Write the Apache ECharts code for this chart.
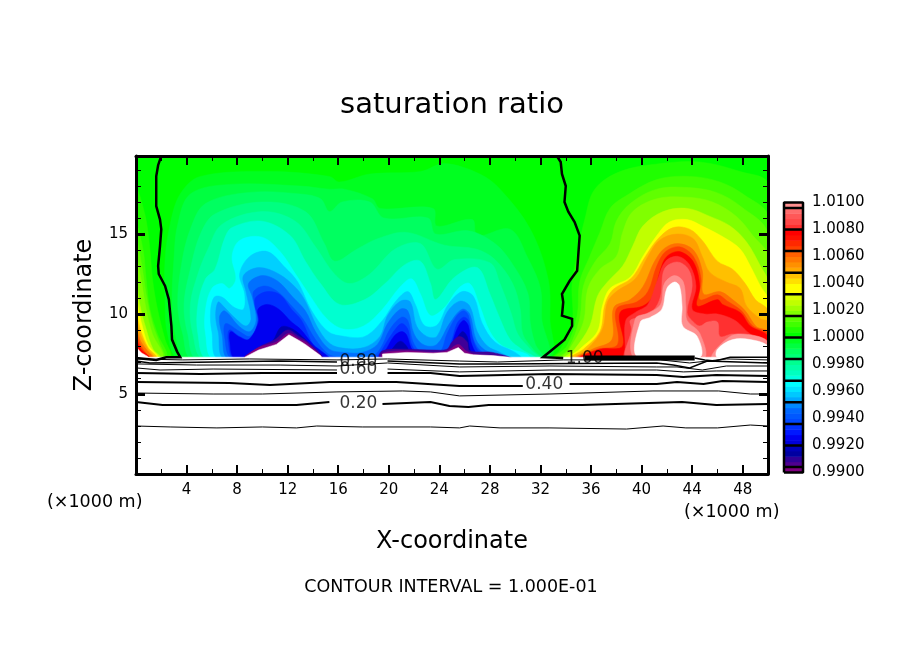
<!doctype html>
<html>
<head>
<meta charset="utf-8">
<title>saturation ratio</title>
<script src="https://cdn.jsdelivr.net/npm/echarts@6/dist/echarts.min.js"></script>
<style>
	html,body{margin:0;background:#fff;}
	#chart{width:904px;height:654px;}
</style>
</head>
<body>
<div id="chart"></div>
<script>
// filled contours: [x (km), z (km)] rings, one list per level
var base = [[[0,7.3],[0,19.875],[50,19.875],[50,7.3]]];
var c9996 = [[[3.5,7.2],[2.5,8.75],[2.3,10.9],[2.3,13.4],[2.7,15.6],[3.5,17.5],[5.1,18.6],[10.6,18.9],[15.3,18.6],[16.1,18.25],[18.5,18.75],[22.5,18.9],[24.4,19.4],[27.2,18.75],[28.8,17.8],[31.2,15.3],[32.6,12.2],[32.75,9.7],[32.6,7.3]]];
var c9992 = [[[4,7.2],[3.1,8.75],[2.85,10.6],[3,13.4],[3.3,15.6],[4.3,17.5],[7.4,18.1],[13,18],[15.3,17.8],[16.5,17.8],[18.7,17.2],[19.3,16.6],[23.5,16.6],[23.8,15.5],[26.6,15.9],[27,14.9],[29.6,15.3],[31,13.5],[32,11.6],[32.1,9.7],[32.4,7.2]]];
var c9988 = [[[4.5,7.2],[3.7,8.75],[3.3,10.6],[3.6,13.1],[4.3,15.3],[5.5,16.9],[9,17.6],[13,17.5],[14.6,17.2],[15.3,16.4],[16.3,17],[18.5,17],[19.6,16],[23.1,16],[23.7,15],[26.3,15.2],[28.4,14.4],[29.8,13.1],[31,11.3],[31.2,9.4],[31.6,8.1],[32.2,7.2]]];
var c9984 = [[[4.9,7.2],[4.1,8.75],[3.8,10.6],[4.3,12.8],[5.1,15],[6.25,16.25],[9.97,17],[13.4,16.4],[14.9,14.4],[15.7,13.3],[17.5,14.06],[19.1,14.7],[21.4,15.1],[24.4,14.3],[26.9,14.06],[28.4,13.4],[29.8,11.9],[30.4,10.3],[30.6,8.75],[31.4,7.8],[32,7.2]]];
var c9980 = [[[5.4,7.2],[4.5,8.75],[4.3,10.6],[4.9,12.5],[5.7,14.06],[6.8,15.6],[9.97,16.4],[12.6,15.8],[14.2,14.2],[15.7,12.5],[16.9,11.9],[18.5,12.5],[20.5,14.06],[22.5,14.4],[23.8,12.8],[25.2,13.4],[28,13.2],[28.8,11.9],[29.7,10],[30.2,8.75],[31.2,7.8],[31.9,7.2]]];
var c9976 = [[[5.7,7.2],[4.9,8.75],[4.9,10.6],[5.5,12.2],[6.25,12.8],[7,14.7],[7.6,15.4],[9.97,15.8],[12.2,14.9],[13.4,13.3],[14.6,11.9],[16.1,10.6],[18.1,10.9],[19.7,11.9],[21.3,13.1],[22.5,13.3],[23.3,11.9],[23.7,10.9],[25.2,12.3],[27,12.9],[28,11.25],[28.8,9.7],[29.6,8.4],[30.5,7.8],[31.6,7.2]]];
var c9972 = [[[6.2,7.2],[5.5,8.75],[5.5,10.3],[6,11.6],[6.8,11.9],[7.4,11.6],[7.9,12.2],[7.6,13.6],[8.2,14.6],[9.97,14.8],[11.4,13.9],[12.7,12.4],[13.8,11.1],[15.1,9.7],[16.4,9.06],[18,9.25],[19.5,10.3],[20.9,11.7],[21.8,12.2],[22.5,11.25],[23.3,9.9],[24.4,10.4],[25.5,11.6],[26.4,11.9],[27.2,10.5],[28,8.9],[29,8],[30.9,7.5],[31.2,7.2]]];
var c9964 = [[[6.6,7.2],[6,8.9],[5.9,10.2],[6.2,11.06],[6.8,11.06],[7.8,10.4],[8.5,10.3],[8.6,11.25],[8.2,12.5],[9,13.6],[10.4,13.9],[11.8,12.9],[12.8,12],[13.9,10.2],[15.2,8.9],[16.5,8.6],[18.1,8.6],[19.5,9.6],[20.5,10.75],[21.5,11.4],[22.1,10.6],[22.8,9.3],[23.8,9.3],[24.7,10.6],[25.8,11.4],[26.7,11.1],[27.4,9.4],[28.4,8.25],[30,7.6],[30.5,7.2]]];
var c9956 = [[[7.1,7.2],[6.5,8.9],[6.3,9.9],[6.5,10.75],[6.9,10.5],[7.9,9.7],[8.7,9.25],[9.1,9.7],[8.7,11.4],[8.5,12.4],[9.7,12.9],[11.3,12.5],[12.7,11.6],[13.4,10.8],[14.3,9.25],[15.2,8.25],[16.1,7.9],[18,7.9],[19.3,8.6],[19.9,9.9],[20.9,10.8],[21.7,10.75],[22.2,9.25],[23,8.6],[23.8,8.6],[24.6,10.1],[25.6,10.8],[26.4,10.5],[27,8.9],[27.8,8],[28.8,7.6],[29.6,7.2]]];
var c9948 = [[[7.4,7.2],[6.8,8.75],[6.6,9.8],[7,10.2],[8.2,9.2],[9,8.9],[9.5,9.6],[9.2,11.06],[8.9,11.9],[9.97,12.4],[11.2,12.06],[12.4,11.06],[13.4,10.2],[14.2,8.9],[15.3,7.8],[16.5,7.6],[17.9,7.6],[19.1,8.1],[19.9,9.4],[20.9,10.3],[21.5,10.2],[22,8.75],[22.8,8.06],[23.8,8.1],[24.8,9.4],[25.8,10.3],[26.4,10],[26.9,8.4],[27.6,7.75],[28.8,7.4],[29.2,7.2]]];
var c9940 = [[[7.7,7.2],[7,8.6],[7.1,9.4],[8.2,8.9],[9,8.6],[9.65,9.4],[9.4,10.6],[9.3,11.4],[10.2,11.75],[11.2,11.4],[12.2,10.6],[13.2,9.7],[14.2,8.4],[15.2,7.5],[16.1,7.3],[18.5,7.3],[19.3,7.8],[20.1,9.06],[21,9.8],[21.5,9.6],[21.9,8.3],[22.6,7.6],[24,7.6],[24.6,8.75],[25.3,9.8],[25.9,10.2],[26.3,9.9],[26.7,8.4],[27.4,7.6],[28.6,7.3],[29,7.2]]];
var c9932 = [
	[[7.8,7.2],[7.3,8.3],[7.4,9],[8.2,8.6],[9,8.4],[9.65,9.6],[9.4,10.6],[9.5,11.06],[10.4,11.4],[11.4,11.2],[12.3,10.3],[13.1,9.6],[14,8.1],[14.95,7.3],[15,7.2]],
	[[19.1,7.2],[19.5,7.8],[20.25,8.75],[21,9.4],[21.5,9.06],[21.8,8.1],[22.5,7.4],[24.4,7.4],[25,8.4],[25.4,9.4],[25.9,9.8],[26.3,9.6],[26.7,8.3],[27.2,7.6],[28.2,7.4],[28.8,7.2]]
];
var c9924 = [
	[[7.9,7.2],[7.4,8.4],[7.5,8.9],[8.1,8.6],[8.9,8.4],[9.7,9.5],[9.65,10.3],[10.4,10.6],[11.3,10.3],[12.3,9.5],[13,9.06],[14,8.1],[14.8,7.6],[15.3,7.2]],
	[[19.3,7.2],[19.8,7.8],[20.4,8.6],[21,8.9],[21.4,8.7],[21.75,7.9],[22.2,7.4],[22.5,7.2]],
	[[24.7,7.2],[25,8.1],[25.4,9.06],[25.9,9.6],[26.3,9.25],[26.5,8.25],[27,7.5],[28,7.2]]
];
var c9916 = [
	[[9.97,7.2],[9.97,7.8],[10.8,8.3],[11.5,9.2],[12.4,9.06],[13.4,8.4],[14.3,7.7],[14.7,7.2]],
	[[19.8,7.2],[20.25,7.8],[20.9,8.3],[21.4,8],[21.7,7.5],[22,7.2]],
	[[25,7.2],[25.2,8.1],[25.8,8.9],[26.2,8.6],[26.4,7.8],[26.7,7.2]]
];
var c9908 = [
	[[8.7,7.2],[9.65,7.9],[11,8.4],[12,9],[12.9,8.6],[13.6,8.25],[14.7,7.2]],
	[[19.3,7.2],[19.5,7.7],[21.4,7.8],[23.5,7.75],[24.6,7.8],[25,8.25],[25.6,8.6],[26.2,8.25],[26.4,7.7],[28.2,7.6],[29.7,7.2]]
];
var c9904 = [
	[[8.6,7.2],[9.7,7.9],[11.1,8.25],[12.1,8.8],[13,8.4],[13.5,8.2],[14.6,7.2]],
	[[19.5,7.2],[19.5,7.55],[21.4,7.7],[23.5,7.6],[24.6,7.7],[25.5,8.1],[26.1,7.7],[26.7,7.5],[28.2,7.4],[29.7,7.2]]
];
var w0004 = [
	[[32.9,7.2],[33.5,7.7],[34.5,9.4],[34.5,11.9],[35,14.06],[35.5,15.9],[36.3,17.8],[38.3,18.9],[41.5,19.4],[44.6,19.5],[47.8,18.9],[50,18.1],[50,7.2]],
	[[0,17.8],[0.7,16.25],[1.1,14.06],[1.3,12.2],[1.7,10.3],[2.3,8.4],[2.7,7.3],[0,7.2]]
];
var w0008 = [
	[[33.1,7.2],[34.1,8],[34.9,9.9],[35.1,12],[35.9,13.6],[36.7,15.1],[37.5,16.6],[38.8,17.4],[41.2,18.4],[43.8,18.6],[46.2,18.25],[48.2,17.4],[50,16.1],[50,7.2]],
	[[0,15.6],[0.55,14.06],[0.8,12.2],[1.1,10.3],[1.7,8.75],[2.4,7.3],[0,7.2]]
];
var w0012 = [
	[[33.4,7.2],[34.2,7.8],[35.1,9.7],[35.4,11.75],[36.3,13.25],[37.5,14.4],[38,15.8],[39.1,16.9],[41.2,17.8],[43.7,17.9],[45.9,17.6],[47.8,16.75],[50,15],[50,7.2]],
	[[0,14.7],[0.45,13.1],[0.8,11.25],[1.3,9.4],[1.9,8.1],[2.2,7.3],[0,7.2]]
];
var w0016 = [
	[[33.7,7.2],[34.3,7.8],[35.4,9.5],[35.75,11.6],[36.7,12.8],[38,13.6],[38.5,15.1],[39.3,16.4],[41.2,17.2],[43.6,17.3],[45.6,17],[47.5,16.1],[48.8,14.9],[50,13.6],[50,7.2]],
	[[0,13.6],[0.4,12.2],[0.8,10.3],[1.3,8.75],[2.1,7.3],[0,7.2]]
];
var w0024 = [
	[[33.9,7.2],[34.7,7.8],[35.9,9.25],[36.5,11.1],[37.3,12],[38.5,13],[39.3,14.25],[40.1,15.5],[41.7,16.4],[43.6,16.6],[45.4,16.1],[47,15.5],[48.3,14.5],[49.4,13],[50,12],[50,7.2]],
	[[0,12.2],[0.3,10.6],[0.8,9.06],[1.35,7.8],[1.9,7.3],[0,7.2]]
];
var w0032 = [
	[[34.2,7.2],[35.1,7.8],[36.5,8.9],[36.9,10.5],[37.5,11.6],[39.1,12.3],[40.1,13.6],[41.2,14.9],[42.2,15.75],[43.6,15.9],[44.8,15.5],[46.7,14.7],[47.8,14.06],[48.6,13],[49.4,11.75],[50,10.9],[50,7.2]],
	[[0,10.9],[0.45,9.4],[0.95,8.1],[1.7,7.3],[0,7.2]]
];
var w0040 = [
	[[34.3,7.2],[35.4,7.8],[36.7,8.9],[37.1,10.6],[37.7,11.5],[39.2,12.25],[40.3,13.6],[41.3,14.7],[42.5,15.4],[43.8,15.3],[44.8,14.6],[46,13.3],[47.2,12.8],[48.2,11.9],[49,10.9],[50,10.2],[50,7.2]],
	[[0,10],[0.4,8.9],[0.95,7.9],[1.6,7.3],[0,7.2]]
];
var w0048 = [
	[[34.6,7.2],[35.7,7.8],[36.9,9.06],[37.3,10.75],[38,11.4],[39.5,12.2],[40.5,13.6],[41.4,14.6],[42.8,15],[44.1,14.7],[44.8,13.6],[45.4,12.6],[46.7,12],[47.8,11.6],[48.3,10.5],[49.4,9.7],[50,9.5],[50,7.2]],
	[[0,9.5],[0.4,8.6],[0.95,7.8],[1.4,7.3],[0,7.2]]
];
var w0056 = [
	[[34.8,7.2],[36.1,7.8],[37.65,8.4],[37.8,10.4],[39.1,10.9],[40.1,11.7],[41,13.25],[41.8,14.1],[42.9,14.4],[44.1,14],[44.8,12.7],[44.9,11.25],[46.2,11.4],[47.2,10.9],[48.2,10.2],[49.1,9.2],[50,8.9],[50,7.2]],
	[[0,9],[0.4,8.25],[0.9,7.7],[1.3,7.3],[0,7.2]]
];
var w0064 = [
	[[35,7.2],[36.5,7.8],[38.1,8.1],[38,10.3],[39.6,10.75],[40.5,11.4],[41.2,13],[41.9,13.9],[43,14.2],[44.1,13.6],[44.7,12.2],[44.6,10.9],[46,11.2],[46.8,10.8],[47.9,10.2],[48.8,9.25],[50,8.75],[50,7.2]],
	[[0,8.7],[0.4,8],[0.8,7.55],[1.1,7.3],[0,7.2]]
];
var w0072 = [
	[[35.1,7.2],[36.7,7.8],[38.5,8],[38.3,10.1],[40.1,10.5],[40.9,11.1],[41.5,12.8],[42,13.6],[43,13.9],[44.1,13.25],[44.6,11.75],[44.4,10.5],[46,10.9],[46.4,10.6],[47.8,10.1],[48.6,9.25],[50,8.6],[50,7.2]],
	[[0,8.4],[0.4,7.8],[1,7.3],[0,7.2]]
];
var w0080 = [
	[[38.7,7.2],[38.7,7.9],[38.75,9.6],[39.5,10.1],[40.5,10.6],[41.2,12],[41.9,13.3],[42.9,13.6],[43.8,13.06],[44.3,11.75],[44,10.3],[45,10],[46,10],[47.4,9.6],[48.6,8.75],[50,8.3],[50,7.2]],
	[[0,8.25],[0.3,7.6],[0.9,7.3],[0,7.2]]
];
var w0088 = [
	[[38.9,7.2],[39.2,9.06],[39.1,9.6],[39.9,9.8],[40.9,10.2],[41.5,11.1],[41.8,12.8],[42.8,13.25],[43.7,12.8],[44,11.75],[43.6,10.1],[44.1,9.5],[44.6,9.25],[45.2,9.5],[46,9.5],[46.2,8.6],[47.2,8.75],[48.6,8.6],[50,8.1],[50,7.2]],
	[[0,8.1],[0.3,7.55],[0.8,7.3],[0,7.2]]
];
var w0096 = [
	[[39.5,7.2],[39.5,9.7],[40.5,10.06],[41.5,10.6],[41.8,11.9],[42.6,12.4],[43.3,12],[43.5,10.5],[43.6,9.6],[44.6,8.8],[44.9,7.2]],
	[[45.6,7.2],[47,8.6],[48.6,8.7],[50,8.25],[50,7.2]],
	[[0,8],[0.3,7.5],[0.7,7.3],[0,7.2]]
];
// out of colour range: white
var offScale = [
	[[39.7,7.3],[39.9,9.5],[40.7,9.8],[41.6,10.3],[42,11.6],[42.6,12],[43,11.75],[43.2,10.5],[43.25,9.25],[44.4,8.6],[44.6,7.3]],
	[[46,7.3],[46,7.8],[47.2,8.4],[48.6,8.4],[50,8],[50,7.3]],
	[[0,7.9],[0.4,7.6],[0.95,7.3],[0,7.3]]
];
// the white ground under the colours keeps its corners
var ground = [[0,7.3],[8.6,7.3],[9.7,7.75],[11.1,8.1],[12.1,8.7],[13,8.3],[13.4,8.1],[14.6,7.4],[14.7,7.3],[19.5,7.3],[19.5,7.5],[21.4,7.6],[23.5,7.55],[24.6,7.6],[25.5,7.9],[26,7.55],[26.7,7.45],[28.2,7.4],[29.6,7.3],[50,7.3],[50,0],[0,0]];

var fillRings = [base, c9996, c9992, c9988, c9984, c9980, c9976, c9972, c9964, c9956, c9948, c9940, c9932, c9924, c9916, c9908, c9904,
	w0004, w0008, w0012, w0016, w0024, w0032, w0040, w0048, w0056, w0064, w0072, w0080, w0088, w0096, offScale, [ground]];
var fillColors = ['#00ff00', '#00ff20', '#00ff40', '#00ff60', '#00ff80', '#00ffa0', '#00ffd0', '#00ffff', '#00d0ff', '#00a0ff', '#0070ff', '#0050ff', '#0030ff', '#0000f0', '#0000b0', '#400098', '#800080',
	'#20ff00', '#40ff00', '#60ff00', '#80ff00', '#c0ff00', '#ffff00', '#ffc000', '#ffa000', '#ff7000', '#ff4000', '#ff0000', '#ff3030', '#ff6060', '#ff9090', '#ffffff', '#ffffff'];

// contour lines, null where the label sits
var line10 = [[0,3],[2.7,2.94],[6.4,2.88],[10,2.94],[12.7,2.88],[14.3,3],[17.9,2.94],[23.3,2.94],[25.6,2.88],[26.4,3],[28.8,2.88],[32.75,2.88],[38.8,2.81],[41.7,3],[43.5,2.88],[46,2.88],[48.6,3.06],[50,3]];
var line20 = [[0,4.5],[2.1,4.31],[5.3,4.31],[12.7,4.31],[15.3,4.5],null,[19.5,4.38],[23.3,4.5],[24.8,4.25],[26.3,4.19],[27.9,4.31],[35.3,4.31],[43.2,4.5],[45.9,4.31],[50,4.38]];
var line30 = [[0,5.06],[6.1,5],[10,5],[15.9,5.13],[21.1,5.19],[23.3,5.13],[25.6,4.88],[32.75,5],[40.9,5.19],[46.1,5.19],[48.6,5],[50,5]];
var line40 = [[0,5.75],[7.4,5.69],[10.6,5.56],[15.3,5.75],[20.6,5.75],[25.6,5.5],[30.6,5.5],null,[34.3,5.63],[41.2,5.63],[42.8,5.75],[44.9,5.63],[46.4,5.81],[50,5.75]];
var line50 = [[0,6.31],[5.1,6.25],[10,6.31],[15.9,6.31],null,[19.9,6.31],[23.3,6.31],[25.6,6.13],[32.75,6.25],[41.2,6.19],[43.3,6.06],[45.9,6.19],[50,6.13]];
var line60 = [[0,6.63],[1.9,6.5],[6.1,6.56],[15.9,6.5],null,[19.9,6.56],[25.6,6.38],[32.75,6.5],[41.2,6.5],[43.3,6.38],[45.9,6.44],[50,6.44]];
var line70 = [[0,6.88],[4.8,6.81],[11.4,6.81],[15.9,6.75],[19.9,6.94],[25.6,6.69],[32.75,6.75],[41.2,6.69],[42.8,6.69],[44.8,6.5],[46.7,6.75],[50,6.75]];
var line80 = [[0,7.06],[1.1,6.94],[6.1,7],[11.4,7.06],[15.9,7],null,[19.9,7.06],[25.6,6.88],[28.6,6.88],[41.2,6.94],[42.5,6.81],[43.8,6.63],[45.2,7.06],[50,6.94]];
var line90 = [[0,7.19],[3.7,7.13],[9,7.19],[15.9,7.13],[19.9,7.19],[25.6,7.06],[28.6,7],[33.8,7.13],[41.5,7.13],[43.8,6.94],[46.7,7.19],[50,7.13]];
var line100Left = [[2,19.875],[1.75,19.3],[1.6,18.6],[1.6,16.75],[1.9,15.9],[2,15.3],[1.9,14.25],[1.75,13],[1.8,12.5],[2.3,11.75],[2.6,10.9],[2.8,9.25],[2.85,8.4],[3.25,7.65],[3.5,7.3],[2.4,7.3],[1.6,7.13],[0,7.25]];
var line100Right = [[33.3,19.875],[33.6,19.5],[33.7,18.75],[34,18],[33.9,17],[34.2,16.4],[34.7,15.75],[35.1,14.9],[34.9,12.7],[34.3,12.06],[33.7,11.25],[33.8,10.75],[33.7,9.9],[34.5,9.7],[34.5,9.25],[33.9,8.4],[32.2,7.3],[33.8,7.25]];
var line100Flat = [[35.5,7.25],[41.5,7.25],[44.2,7.25]];
var line100End = [[44.2,7.25],[45,7.13],[45.8,7.06],[47,7.3],[50,7.3]];
var contourLabels = [[17.6,4.4,'0.20'],[32.3,5.6,'0.40'],[17.6,6.5,'0.60'],[17.6,7,'0.80'],[35.5,7.2,'1.00']];

// colour bar
var barLevels = [0.9900,0.9904,0.9908,0.9912,0.9916,0.9920,0.9924,0.9928,0.9932,0.9936,0.9940,0.9944,0.9948,0.9952,0.9956,0.9960,0.9964,0.9968,0.9972,0.9976,0.9980,0.9984,0.9988,0.9992,0.9996,1.0000,1.0004,1.0008,1.0012,1.0016,1.0020,1.0024,1.0028,1.0032,1.0036,1.0040,1.0044,1.0048,1.0052,1.0056,1.0060,1.0064,1.0068,1.0072,1.0076,1.0080,1.0084,1.0088,1.0092,1.0096,1.0100];
var barColors = ['#800080','#500090','#300098','#0000a0','#0000b8','#0000d8','#0000f0','#0018ff','#0030ff','#0048ff','#0058ff','#0068ff','#0088ff','#00a8ff','#00c8ff','#00e4ff','#00ffff','#00ffe0','#00ffc0','#00ffa8','#00ff90','#00ff78','#00ff60','#00ff40','#00ff20','#00ff00','#20ff00','#40ff00','#58ff00','#80ff00','#a0ff00','#c0ff00','#d8ff00','#ffff00','#ffff00','#ffe000','#ffc000','#ffa800','#ff9000','#ff7800','#ff6000','#ff4000','#ff2800','#ff1000','#ff0000','#ff3030','#ff4848','#ff5858','#ff6c6c','#ff9090'];
var barSeparators = [0.9904,0.9920,0.9936,0.9952,0.9968,0.9984,1.0000,1.0016,1.0032,1.0048,1.0064,1.0080,1.0096];

var textFont = 'DejaVu Sans';
var fillData = [];
fillRings.forEach(function(rings, level){
	rings.forEach(function(ring){ fillData.push({ring: ring, color: fillColors[level]}); });
});

function contourSeries(points, width){
	return {
		type: 'line', xAxisIndex: 0, yAxisIndex: 0, data: points, showSymbol: false, symbol: 'none',
		connectNulls: false, silent: true, z: 5, clip: true, animation: false,
		lineStyle: {color: '#000', width: width, join: 'miter'}
	};
}

var frameLine = {onZero: false, lineStyle: {color: '#000', width: 3}};

var chart = echarts.init(document.getElementById('chart'), null, {renderer: 'canvas'});
chart.setOption({
	animation: false,
	backgroundColor: '#fff',
	title: [
		{text: 'saturation ratio', left: 447, top: 86, textAlign: 'center', textStyle: {fontFamily: textFont, fontWeight: 'normal', fontSize: 29, color: '#000'}},
		{text: 'CONTOUR INTERVAL = 1.000E-01', left: 446, top: 573, textAlign: 'center', textStyle: {fontFamily: textFont, fontWeight: 'normal', fontSize: 17.5, color: '#000'}}
	],
	graphic: [
		{type: 'text', left: 47, top: 493, style: {text: '(×1000 m)', font: '17.5px "DejaVu Sans"', fill: '#000'}},
		{type: 'text', left: 684, top: 503, style: {text: '(×1000 m)', font: '17.5px "DejaVu Sans"', fill: '#000'}}
	],
	grid: [
		{left: 136, top: 156, width: 632, height: 318, show: false},
		{left: 784, top: 202.5, width: 19, height: 270, show: false}
	],
	xAxis: [
		{
			gridIndex: 0, type: 'value', min: 0, max: 50, interval: 4, z: 10,
			name: 'X-coordinate', nameLocation: 'middle', nameGap: 56,
			nameTextStyle: {fontFamily: textFont, fontSize: 24, color: '#000'},
			axisLine: frameLine,
			axisTick: {inside: true, length: 9, lineStyle: {color: '#000', width: 2}},
			minorTick: {show: true, splitNumber: 2, length: 5, lineStyle: {color: '#000', width: 1}},
			splitLine: {show: false},
			axisLabel: {showMinLabel: false, showMaxLabel: false, margin: 9, fontFamily: textFont, fontSize: 15, color: '#000'}
		},
		{
			gridIndex: 0, type: 'value', position: 'top', min: 0, max: 50, interval: 4, z: 10,
			axisLine: frameLine,
			axisTick: {inside: true, length: 9, lineStyle: {color: '#000', width: 2}},
			minorTick: {show: true, splitNumber: 2, length: 5, lineStyle: {color: '#000', width: 1}},
			splitLine: {show: false}, axisLabel: {show: false}
		},
		{gridIndex: 1, type: 'value', min: 0, max: 1, show: false}
	],
	yAxis: [
		{
			gridIndex: 0, type: 'value', min: 0, max: 19.875, interval: 5, z: 10,
			name: 'Z-coordinate', nameLocation: 'middle', nameGap: 39,
			nameTextStyle: {fontFamily: textFont, fontSize: 24, color: '#000'},
			axisLine: frameLine,
			axisTick: {inside: true, length: 9, lineStyle: {color: '#000', width: 3}},
			minorTick: {show: true, splitNumber: 5, length: 5, lineStyle: {color: '#000', width: 1}},
			splitLine: {show: false},
			axisLabel: {showMinLabel: false, showMaxLabel: false, margin: 8, fontFamily: textFont, fontSize: 15, color: '#000'}
		},
		{
			gridIndex: 0, type: 'value', position: 'right', min: 0, max: 19.875, interval: 5, z: 10,
			axisLine: frameLine,
			axisTick: {inside: true, length: 9, lineStyle: {color: '#000', width: 3}},
			minorTick: {show: true, splitNumber: 5, length: 5, lineStyle: {color: '#000', width: 1}},
			splitLine: {show: false}, axisLabel: {show: false}
		},
		{
			gridIndex: 1, type: 'value', position: 'right', min: 0.99, max: 1.01, interval: 0.002,
			axisLine: {show: false}, axisTick: {show: false}, splitLine: {show: false},
			axisLabel: {margin: 9, fontFamily: textFont, fontSize: 15, color: '#000', formatter: function(v){ return v.toFixed(4); }}
		}
	],
	series: [
		{
			type: 'custom', xAxisIndex: 0, yAxisIndex: 0, silent: true, clip: true, z: 2,
			data: fillData.map(function(d, i){ return [i, 0]; }),
			renderItem: function(params, api){
				var d = fillData[api.value(0)];
				return {
					type: 'polygon',
					shape: {points: d.ring.map(function(p){ return api.coord(p); }), smooth: (d.ring === ground || d.ring === base[0]) ? 0 : 0.35},
					style: {fill: d.color, stroke: d.color, lineWidth: 0.5}
				};
			}
		},
		contourSeries(line10, 1),
		contourSeries(line20, 2),
		contourSeries(line30, 1),
		contourSeries(line40, 2),
		contourSeries(line50, 2),
		contourSeries(line60, 1),
		contourSeries(line70, 1),
		contourSeries(line80, 1.5),
		contourSeries(line90, 1),
		contourSeries(line100Left, 2.5),
		contourSeries(line100Right, 2.5),
		contourSeries(line100Flat, 5),
		contourSeries(line100End, 1.5),
		{
			type: 'scatter', xAxisIndex: 0, yAxisIndex: 0, symbolSize: 0, silent: true, z: 6,
			data: contourLabels,
			label: {
				show: true, position: 'inside', fontFamily: textFont, fontSize: 17, color: '#000',
				formatter: function(p){ return p.value[2]; }
			}
		},
		{
			type: 'custom', xAxisIndex: 2, yAxisIndex: 2, silent: true, z: 2,
			data: barColors.map(function(c, i){ return [0, barLevels[i], barLevels[i + 1], i]; }),
			renderItem: function(params, api){
				var a = api.coord([0, api.value(2)]), b = api.coord([1, api.value(1)]);
				return {
					type: 'rect',
					shape: {x: a[0], y: a[1], width: b[0] - a[0], height: b[1] - a[1] + 0.5},
					style: {fill: barColors[api.value(3)]}
				};
			}
		},
		{
			type: 'line', xAxisIndex: 2, yAxisIndex: 2, silent: true, z: 3, showSymbol: false, symbol: 'none',
			lineStyle: {color: '#000', width: 2.5},
			data: barSeparators.reduce(function(out, v){ out.push([0, v], [1, v], null); return out; }, [])
		},
		{
			type: 'line', xAxisIndex: 2, yAxisIndex: 2, silent: true, z: 4, showSymbol: false, symbol: 'none', clip: false,
			lineStyle: {color: '#000', width: 2.5},
			data: [[0, 0.99], [1, 0.99], [1, 1.01], [0, 1.01], [0, 0.99]]
		}
	]
});
</script>
</body>
</html>
